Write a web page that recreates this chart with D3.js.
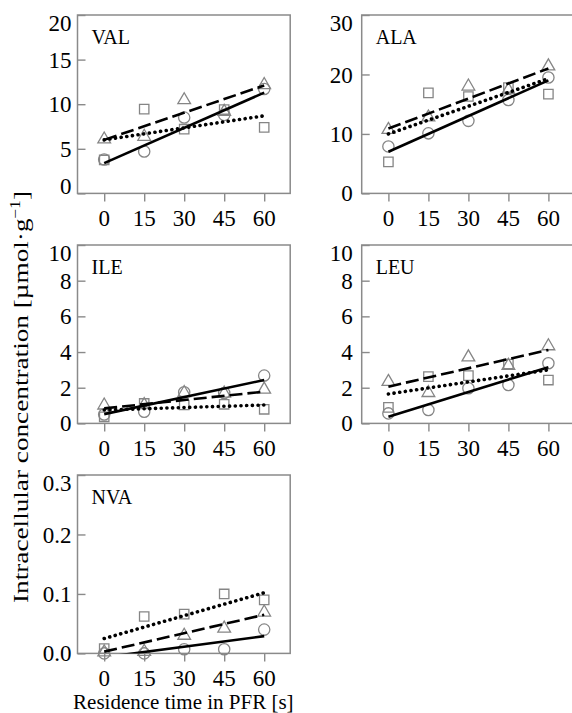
<!DOCTYPE html>
<html>
<head>
<meta charset="utf-8">
<script src="https://cdn.jsdelivr.net/npm/d3@7"></script>
<style>
  html, body { margin: 0; padding: 0; background: #fff; }
  svg { display: block; }
  text { font-family: "Liberation Serif", "Times New Roman", serif; fill: #000; }
</style>
</head>
<body>
<svg id="chart" width="572" height="713"></svg>
<script>
// ---------- data ----------
const times = [0, 15, 30, 45, 60];
const xTickLabels = [0, 15, 30, 45, 60];
const panelNames = ["VAL", "ALA", "ILE", "LEU", "NVA"];
const yMaxima = [20, 30, 10, 10, 0.3];

const valTicks = [0, 5, 10, 15, 20];
const alaTicks = [0, 10, 20, 30];
const ileTicks = [0, 2, 4, 6, 8, 10];
const leuTicks = [0, 2, 4, 6, 8, 10];
const nvaTicks = [0, 0.1, 0.2, 0.3];

// circles (solid fit), triangles (dashed fit), squares (dotted fit)
const valCircle   = [3.8, 4.7, 8.5, 8.8, 11.7];
const valTriangle = [6.2, 6.5, 10.6, 9.3, 12.3];
const valSquare   = [3.75, 9.45, 7.2, 9.4, 7.4];
const valFitCircle   = [3.4, 11.3];
const valFitTriangle = [6.0, 12.1];
const valFitSquare   = [6.0, 8.7];

const alaCircle   = [7.9, 10.1, 12.2, 15.7, 19.5];
const alaTriangle = [10.9, 13.0, 18.2, 17.6, 21.6];
const alaSquare   = [5.3, 16.9, 16.3, 17.8, 16.7];
const alaFitCircle   = [7.0, 19.0];
const alaFitTriangle = [10.9, 21.0];
const alaFitSquare   = [10.0, 19.3];

const ileCircle   = [0.5, 0.65, 1.75, 1.7, 2.68];
const ileTriangle = [1.08, 1.1, 1.78, 1.75, 1.97];
const ileSquare   = [0.37, 1.12, 1.03, 1.07, 0.79];
const ileFitCircle   = [0.52, 2.43];
const ileFitTriangle = [0.84, 1.78];
const ileFitSquare   = [0.75, 1.03];

const leuCircle   = [0.56, 0.75, 1.97, 2.15, 3.37];
const leuTriangle = [2.4, 1.78, 3.78, 3.3, 4.4];
const leuSquare   = [0.9, 2.62, 2.68, 3.33, 2.43];
const leuFitCircle   = [0.37, 3.15];
const leuFitTriangle = [2.06, 4.12];
const leuFitSquare   = [1.65, 3.0];

const nvaCircle   = [0.0, 0.0, 0.007, 0.007, 0.04];
const nvaTriangle = [0.004, 0.005, 0.032, 0.044, 0.071];
const nvaSquare   = [0.008, 0.062, 0.066, 0.1, 0.09];
const nvaFitCircle   = [-0.0065, 0.029];
const nvaFitTriangle = [0.003, 0.065];
const nvaFitSquare   = [0.025, 0.102];

const fitTimes = [0, 60];

const xTitle = "Residence time in PFR [s]";
const yTitleMain = "Intracellular concentration [µmol·g";
const yTitleSup = "−1";
const yTitleEnd = "]";

// ---------- assemble ----------
const panels = [
  {name: panelNames[0], max: yMaxima[0], ticks: valTicks, fmt: d3.format("d"),
   pts: [valCircle, valTriangle, valSquare], fits: [valFitCircle, valFitTriangle, valFitSquare]},
  {name: panelNames[1], max: yMaxima[1], ticks: alaTicks, fmt: d3.format("d"),
   pts: [alaCircle, alaTriangle, alaSquare], fits: [alaFitCircle, alaFitTriangle, alaFitSquare]},
  {name: panelNames[2], max: yMaxima[2], ticks: ileTicks, fmt: d3.format("d"),
   pts: [ileCircle, ileTriangle, ileSquare], fits: [ileFitCircle, ileFitTriangle, ileFitSquare]},
  {name: panelNames[3], max: yMaxima[3], ticks: leuTicks, fmt: d3.format("d"),
   pts: [leuCircle, leuTriangle, leuSquare], fits: [leuFitCircle, leuFitTriangle, leuFitSquare]},
  {name: panelNames[4], max: yMaxima[4], ticks: nvaTicks, fmt: d3.format(".1f"),
   pts: [nvaCircle, nvaTriangle, nvaSquare], fits: [nvaFitCircle, nvaFitTriangle, nvaFitSquare]}
];

// ---------- layout ----------
const colLeft = [77.5, 361.7];
const labelGap = [6, 9];
const rowTop = [15, 245, 475];
const boxW = 212.7, boxH = 178.4;
const xPad = 26.7;
const grey = "#8a8a8a";
const markerGrey = "#858585";
const tickFont = 23;

const svg = d3.select("#chart");
const defs = svg.append("defs");

const lineStyles = [
  {dash: null, width: 2.6, cap: "butt"},
  {dash: "13,5", width: 2.6, cap: "butt"},
  {dash: "0.1,5.6", width: 3.6, cap: "round"}
];

const shapeSym = [d3.symbolCircle, d3.symbolTriangle, d3.symbolSquare];
const shapeSize = [100, 70, 88];
const shapeDy = [0, 1.2, 0];

panels.forEach((p, i) => {
  const col = i % 2, row = Math.floor(i / 2);
  const left = colLeft[col], top = rowTop[row];
  const x = d3.scaleLinear().domain([0, 60]).range([left + xPad, left + xPad + 160]);
  const y = d3.scaleLinear().domain([0, p.max]).range([top + boxH, top]);
  const g = svg.append("g");

  const clipId = "clip" + i;
  defs.append("clipPath").attr("id", clipId)
    .append("rect").attr("x", left).attr("y", top).attr("width", boxW).attr("height", boxH);

  // y axis (ticks inward)
  const yAxis = d3.axisRight(y).tickValues(p.ticks).tickSize(8).tickFormat("");
  const ya = g.append("g").attr("transform", `translate(${left},0)`).call(yAxis);
  ya.select(".domain").remove();
  ya.selectAll("line").attr("stroke", grey).attr("stroke-width", 1.4);

  // y labels
  g.selectAll(".ylab").data(p.ticks).enter().append("text")
    .attr("x", left - labelGap[col])
    .attr("y", (d, k) => y(d) + (k === p.ticks.length - 1 ? 8 : 0) + ((i === 0 && k === 0) ? -7 : 0))
    .attr("dy", "0.35em")
    .attr("text-anchor", "end")
    .attr("font-size", tickFont)
    .text(d => p.fmt(d));

  // x axis (ticks outward)
  const xAxis = d3.axisBottom(x).tickValues(times).tickSize(8).tickFormat("");
  const xa = g.append("g").attr("transform", `translate(0,${top + boxH})`).call(xAxis);
  xa.select(".domain").remove();
  xa.selectAll("line").attr("stroke", grey).attr("stroke-width", 1.4);

  g.selectAll(".xlab").data(xTickLabels).enter().append("text")
    .attr("x", d => x(d))
    .attr("y", top + boxH + 25)
    .attr("dy", "0.35em")
    .attr("text-anchor", "middle")
    .attr("font-size", tickFont)
    .text(d => d);

  // box
  g.append("rect").attr("x", left).attr("y", top).attr("width", boxW).attr("height", boxH)
    .attr("fill", "none").attr("stroke", grey).attr("stroke-width", 1.5);

  // panel label
  g.append("text").attr("x", left + 14).attr("y", top + 28.5)
    .attr("font-size", 20).text(p.name);

  // markers
  p.pts.forEach((vals, s) => {
    g.selectAll(".m" + s).data(vals).enter().append("path")
      .attr("d", d3.symbol().type(shapeSym[s]).size(shapeSize[s]))
      .attr("transform", (d, k) => `translate(${x(times[k])},${y(d) + shapeDy[s]})`)
      .attr("fill", "none").attr("stroke", markerGrey).attr("stroke-width", 1.3);
  });

  // fit lines
  const line = d3.line().x(d => x(d[0])).y(d => y(d[1]));
  const lg = g.append("g").attr("clip-path", `url(#${clipId})`);
  p.fits.forEach((f, s) => {
    const st = lineStyles[s];
    lg.append("path")
      .attr("d", line(fitTimes.map((t, k) => [t, f[k]])))
      .attr("fill", "none").attr("stroke", "#000")
      .attr("stroke-width", st.width)
      .attr("stroke-linecap", st.cap)
      .attr("stroke-dasharray", st.dash);
  });
});

// axis titles
svg.append("text")
  .attr("x", colLeft[0] + boxW / 2 - 0.5)
  .attr("y", 709)
  .attr("text-anchor", "middle")
  .attr("font-size", 21)
  .text(xTitle);

const yt = svg.append("text")
  .attr("transform", "translate(28,397) rotate(-90)")
  .attr("text-anchor", "middle")
  .attr("font-size", 22)
  .attr("textLength", 412)
  .attr("lengthAdjust", "spacingAndGlyphs");
yt.append("tspan").text(yTitleMain);
yt.append("tspan").attr("font-size", 14).attr("dy", -8).text(yTitleSup);
yt.append("tspan").attr("dy", 8).text(yTitleEnd);
</script>
</body>
</html>
